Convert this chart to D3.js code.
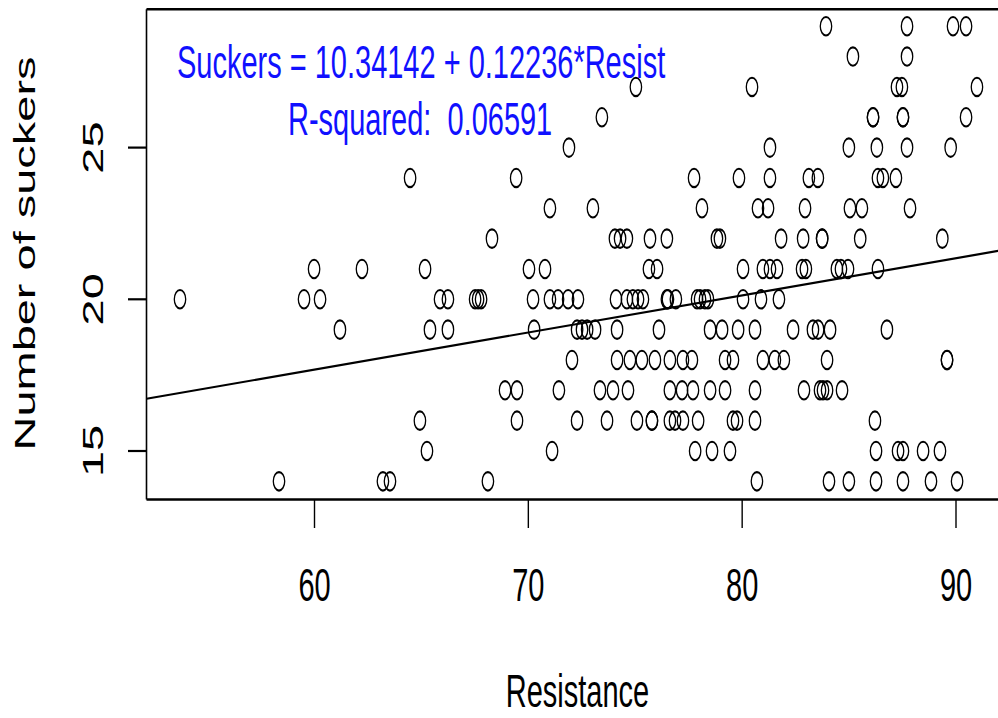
<!DOCTYPE html>
<html>
<head>
<meta charset="utf-8">
<script src="https://cdn.jsdelivr.net/npm/d3@7"></script>
<style>
  html, body { margin: 0; padding: 0; background: #fff; overflow: hidden; }
  text { font-family: "Liberation Sans", Arial, Helvetica, sans-serif; }
</style>
</head>
<body>
<svg id="chart" width="998" height="718"></svg>
<script>
// Axis ticks
const xTicks = [60, 70, 80, 90];
const yTicks = [15, 20, 25];

// Fitted model shown in the annotation
const intercept = 10.34142;
const slope = 0.12236;
const rSquared = 0.06591;

// Number of suckers (integer counts) and the resistance values observed at each count
const suckerLevels = [14, 15, 16, 17, 18, 19, 20, 21, 22, 23, 24, 25, 26, 27, 28, 29];
const resistanceByLevel = [
  /* 14 */ [58.34, 63.20, 63.53, 68.11, 80.69, 84.06, 84.99, 86.26, 87.52, 88.83, 90.05],
  /* 15 */ [65.26, 71.11, 77.80, 78.59, 79.43, 86.26, 87.29, 87.52, 88.46, 89.25],
  /* 16 */ [64.93, 69.47, 72.28, 73.68, 75.08, 75.78, 75.78, 76.62, 76.86, 77.23, 77.94, 79.57, 79.76, 80.60, 86.21],
  /* 17 */ [68.91, 69.47, 71.43, 73.35, 73.96, 74.66, 76.62, 77.19, 77.70, 78.50, 79.20, 80.60, 82.89, 83.64, 83.78, 83.97, 84.67],
  /* 18 */ [72.04, 74.15, 74.75, 75.31, 75.92, 76.62, 77.23, 77.65, 79.20, 79.57, 80.97, 81.53, 81.95, 83.97, 89.58, 89.58],
  /* 19 */ [61.19, 65.40, 66.24, 70.27, 72.28, 72.51, 72.75, 73.12, 74.15, 76.11, 78.50, 79.06, 79.81, 80.60, 82.38, 83.31, 83.55, 84.11, 86.77],
  /* 20 */ [53.71, 59.51, 60.26, 65.87, 66.24, 67.51, 67.65, 67.79, 70.22, 71.01, 71.39, 71.86, 72.32, 74.10, 74.61, 74.89, 75.13, 75.36, 76.48, 76.53, 76.90, 77.89, 78.03, 78.26, 78.40, 80.04, 80.88, 81.72],
  /* 21 */ [59.98, 62.22, 65.17, 70.03, 70.78, 75.64, 76.02, 80.04, 80.97, 81.30, 81.63, 82.80, 82.98, 84.43, 84.62, 84.95, 86.35],
  /* 22 */ [68.30, 74.05, 74.29, 74.61, 75.69, 76.48, 78.82, 78.96, 81.82, 82.85, 83.74, 83.74, 85.52, 89.36],
  /* 23 */ [71.01, 73.02, 78.12, 80.74, 81.21, 82.94, 85.04, 85.60, 87.85],
  /* 24 */ [64.47, 69.43, 77.75, 79.85, 81.30, 83.12, 83.54, 86.35, 86.58, 87.19],
  /* 25 */ [71.90, 81.30, 84.99, 86.30, 87.71, 89.75],
  /* 26 */ [73.44, 86.12, 86.12, 87.52, 87.52, 90.47],
  /* 27 */ [75.03, 80.46, 87.24, 87.47, 90.98],
  /* 28 */ [85.18, 87.71],
  /* 29 */ [83.92, 87.71, 89.86, 90.47]
];

const points = [];
suckerLevels.forEach((s, i) => resistanceByLevel[i].forEach(r => points.push({ r, s })));

// The device is taller than it is wide in user units, so everything is stretched vertically
const sy = 1.62;
const fontSize = 29;

const svg = d3.select("#chart");
const plotLeft = 146.5, plotRight = 1007, plotTop = 9.3, plotBottom = 499.5;

const x = d3.scaleLinear().domain([60, 90]).range([314.5, 956]);
const y = d3.scaleLinear().domain([15, 25]).range([451, 147.6]);

// clip region for the fitted line
svg.append("defs").append("clipPath").attr("id", "plot-clip")
  .append("rect")
  .attr("x", plotLeft).attr("y", plotTop)
  .attr("width", plotRight - plotLeft).attr("height", plotBottom - plotTop);

// Points: open circles
svg.append("g")
  .selectAll("circle")
  .data(points)
  .join("circle")
  .attr("transform", d => `translate(${x(d.r)},${y(d.s)}) scale(1,${sy})`)
  .attr("r", 5.7)
  .attr("fill", "none")
  .attr("stroke", "#000")
  .attr("stroke-width", 1.3);

// Least-squares line
const x0 = x.invert(plotLeft), x1 = x.invert(plotRight);
svg.append("line")
  .attr("clip-path", "url(#plot-clip)")
  .attr("x1", x(x0)).attr("y1", y(intercept + slope * x0))
  .attr("x2", x(x1)).attr("y2", y(intercept + slope * x1))
  .attr("stroke", "#000")
  .attr("stroke-width", 2.2);

// Plot frame
const frame = svg.append("g").attr("stroke", "#000").attr("fill", "none");
frame.append("line").attr("x1", plotLeft).attr("x2", plotLeft).attr("y1", plotTop).attr("y2", plotBottom).attr("stroke-width", 1.6);
frame.append("line").attr("x1", plotLeft).attr("x2", plotRight).attr("y1", plotTop).attr("y2", plotTop).attr("stroke-width", 2.5);
frame.append("line").attr("x1", plotLeft).attr("x2", plotRight).attr("y1", plotBottom).attr("y2", plotBottom).attr("stroke-width", 2.5);
frame.append("line").attr("x1", plotRight).attr("x2", plotRight).attr("y1", plotTop).attr("y2", plotBottom).attr("stroke-width", 1.6);

// X axis
const xAxis = svg.append("g");
xAxis.selectAll("line")
  .data(xTicks)
  .join("line")
  .attr("x1", d => x(d)).attr("x2", d => x(d))
  .attr("y1", plotBottom).attr("y2", 528)
  .attr("stroke", "#000").attr("stroke-width", 1.4);
xAxis.selectAll("text")
  .data(xTicks)
  .join("text")
  .attr("transform", d => `translate(${x(d)},601) scale(1,${sy})`)
  .attr("text-anchor", "middle")
  .attr("font-size", fontSize)
  .attr("fill", "#000")
  .text(d => d);

// Y axis
const yAxis = svg.append("g");
yAxis.selectAll("line")
  .data(yTicks)
  .join("line")
  .attr("x1", 128).attr("x2", plotLeft)
  .attr("y1", d => y(d)).attr("y2", d => y(d))
  .attr("stroke", "#000").attr("stroke-width", 2.2);
yAxis.selectAll("text")
  .data(yTicks)
  .join("text")
  .attr("transform", d => `translate(103,${y(d)}) scale(1,${sy}) rotate(-90)`)
  .attr("text-anchor", "middle")
  .attr("font-size", fontSize)
  .attr("fill", "#000")
  .text(d => d);

// Axis titles
svg.append("text")
  .attr("transform", `translate(577.5,707) scale(1,${sy})`)
  .attr("text-anchor", "middle")
  .attr("font-size", fontSize)
  .attr("fill", "#000")
  .text("Resistance");

svg.append("text")
  .attr("transform", `translate(35,253.5) scale(1,${sy}) rotate(-90)`)
  .attr("text-anchor", "middle")
  .attr("font-size", fontSize)
  .attr("fill", "#000")
  .text("Number of suckers");

// Model annotation
svg.append("text")
  .attr("transform", `translate(177,78) scale(1,${sy})`)
  .attr("font-size", fontSize)
  .attr("fill", "#1010ff")
  .text(`Suckers = ${intercept} + ${slope}*Resist`);

svg.append("text")
  .attr("transform", `translate(288,135) scale(1,${sy})`)
  .attr("font-size", fontSize)
  .attr("fill", "#1010ff")
  .attr("xml:space", "preserve")
  .style("white-space", "pre")
  .text(`R-squared:  ${rSquared}`);
</script>
</body>
</html>
